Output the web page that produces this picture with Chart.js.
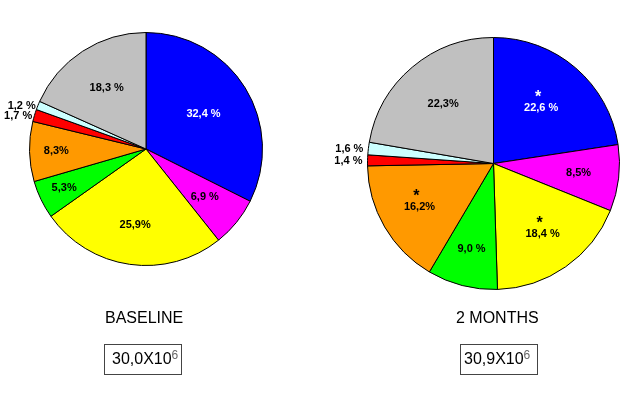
<!DOCTYPE html>
<html>
<head>
<meta charset="utf-8">
<script src="https://cdn.jsdelivr.net/npm/chart.js@4.4.1/dist/chart.umd.min.js"></script>
<style>
  body { margin: 0; background: #fff; }
  #wrap { position: relative; width: 625px; height: 409px; overflow: hidden; font-family: "Liberation Sans", Arial, sans-serif; }
  canvas { position: absolute; left: 0; top: 0; }
  .title { position: absolute; font-size: 16px; line-height: 16px; color: #000; white-space: nowrap; }
  .box { position: absolute; box-sizing: border-box; width: 78px; height: 31px; border: 1px solid #444;
         font-size: 16px; line-height: 16px; padding-top: 6px; white-space: nowrap; color: #000; }
  .box sup { font-size: 12px; color: #666; vertical-align: 0; position: relative; top: -5px; }
</style>
</head>
<body>
<div id="wrap">
  <canvas id="pieBaseline" width="625" height="409"></canvas>
  <canvas id="pieMonths" width="625" height="409"></canvas>
  <div class="title" style="left:105px; top:310px;">BASELINE</div>
  <div class="title" style="left:456px; top:310px;">2 MONTHS</div>
  <div class="box" style="left:104px; top:344px; padding-left:7px;">30,0X10<sup>6</sup></div>
  <div class="box" style="left:460px; top:344px; padding-left:3px;">30,9X10<sup>6</sup></div>
</div>
<script>
const categories = ["Blue", "Magenta", "Yellow", "Green", "Orange", "Red", "Light blue", "Grey"];
const baselineValues = [32.4, 6.9, 25.9, 5.3, 8.3, 1.7, 1.2, 18.3];
const monthsValues = [22.6, 8.5, 18.4, 9.0, 16.2, 1.4, 1.6, 22.3];
const baselineLabels = ["32,4 %", "6,9 %", "25,9%", "5,3%", "8,3%", "1,7 %", "1,2 %", "18,3 %"];
const monthsLabels = ["22,6 %", "8,5%", "18,4 %", "9,0 %", "16,2%", "1,4 %", "1,6 %", "22,3%"];
const monthsStars = [true, false, true, false, true, false, false, false];

const sliceColors = ["#0000FF", "#FF00FF", "#FFFF00", "#00FF00", "#FF9900", "#FF0000", "#CCFFFF", "#C0C0C0"];
const textColors = ["#fff", "#000", "#000", "#000", "#000", "#000", "#000", "#000"];

// draws percentage text inside (or just outside) each slice
const sliceLabels = {
  id: "sliceLabels",
  afterDatasetsDraw(chart, args, opts) {
    const ctx = chart.ctx;
    const meta = chart.getDatasetMeta(0);
    ctx.save();
    meta.data.forEach((arc, i) => {
      const p = arc.getProps(["x", "y", "startAngle", "endAngle", "outerRadius"], true);
      const mid = (p.startAngle + p.endAngle) / 2;
      const f = opts.radius[i];
      const x = p.x + Math.cos(mid) * p.outerRadius * f;
      let y = p.y + Math.sin(mid) * p.outerRadius * f;
      ctx.font = 'bold 11px "Liberation Sans", Arial, sans-serif';
      ctx.textBaseline = "middle";
      if (f > 1) {
        ctx.textAlign = "right";
        ctx.fillStyle = "#000";
        y += 1;
      } else {
        ctx.textAlign = "center";
        ctx.fillStyle = textColors[i];
      }
      ctx.fillText(opts.text[i], x, y);
      if (opts.stars && opts.stars[i]) {
        ctx.font = 'bold 16px "Liberation Sans", Arial, sans-serif';
        ctx.textAlign = "center";
        ctx.fillText("*", x - 3, y - 10);
      }
    });
    ctx.restore();
  }
};

function makePie(id, values, padding, labelOpts) {
  return new Chart(document.getElementById(id), {
    type: "pie",
    data: {
      labels: categories,
      datasets: [{
        data: values,
        backgroundColor: sliceColors,
        borderColor: "#000",
        borderWidth: 1
      }]
    },
    options: {
      responsive: false,
      animation: false,
      layout: { padding: padding },
      plugins: {
        legend: { display: false },
        tooltip: { enabled: false },
        sliceLabels: labelOpts
      }
    },
    plugins: [sliceLabels]
  });
}

makePie("pieBaseline", baselineValues,
  { left: 29, top: 32, right: 362, bottom: 143 },
  { text: baselineLabels, radius: [0.58, 0.65, 0.66, 0.78, 0.77, 1.02, 1.02, 0.62] });

makePie("pieMonths", monthsValues,
  { left: 367, top: 37, right: 5, bottom: 119 },
  { text: monthsLabels, stars: monthsStars, radius: [0.58, 0.68, 0.68, 0.7, 0.68, 1.04, 1.04, 0.62] });
</script>
</body>
</html>
